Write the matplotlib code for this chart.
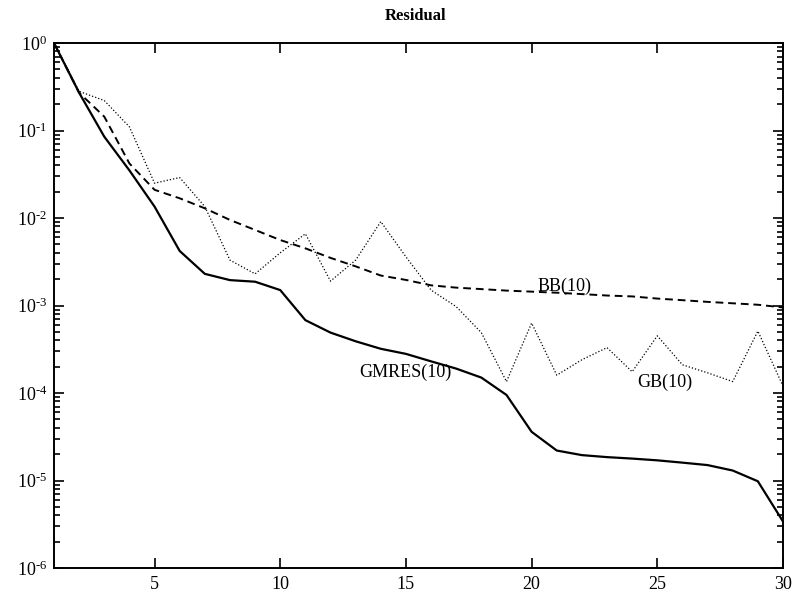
import numpy as np
import matplotlib
matplotlib.use("Agg")
import matplotlib.pyplot as plt
from matplotlib.ticker import FixedLocator, FuncFormatter, NullFormatter

plt.rcParams["font.family"] = ["Liberation Serif", "DejaVu Serif"]
plt.rcParams["mathtext.fontset"] = "custom"
plt.rcParams["mathtext.rm"] = "Liberation Serif"
plt.rcParams["mathtext.it"] = "Liberation Serif:italic"

iterations = np.arange(1, 31)

gmres = [1.0, 0.27, 0.085, 0.035, 0.0135, 0.0042, 0.0023, 0.00195, 0.00187, 0.0015,
         6.8e-4, 4.9e-4, 3.9e-4, 3.2e-4, 2.8e-4, 2.3e-4, 1.9e-4, 1.5e-4, 9.5e-5, 3.6e-5,
         2.2e-5, 1.95e-5, 1.85e-5, 1.78e-5, 1.7e-5, 1.6e-5, 1.5e-5, 1.3e-5, 9.8e-6, 3.4e-6]

bb = [1.0, 0.27, 0.144, 0.042, 0.021, 0.0168, 0.0129, 0.0095, 0.0073, 0.0056,
      0.0045, 0.0035, 0.0028, 0.0022, 0.00196, 0.0017, 0.0016, 0.00154, 0.00148, 0.00144,
      0.0014, 0.00135, 0.0013, 0.00127, 0.0012, 0.00115, 0.0011, 0.00106, 0.00102, 0.00095]

gb = [1.0, 0.28, 0.22, 0.11, 0.025, 0.029, 0.0135, 0.0033, 0.0023, 0.004,
      0.0066, 0.0019, 0.0033, 0.0091, 0.0036, 0.0015, 0.00097, 4.9e-4, 1.35e-4, 6.3e-4,
      1.6e-4, 2.4e-4, 3.3e-4, 1.75e-4, 4.5e-4, 2.1e-4, 1.7e-4, 1.35e-4, 5.1e-4, 1.2e-4]

x_ticks = [5, 10, 15, 20, 25, 30]
y_decades = [-6, -5, -4, -3, -2, -1, 0]

W, H = 797, 601
fig = plt.figure(figsize=(W / 100, H / 100), dpi=100)
ax = fig.add_axes([54 / W, 1 - 568 / H, 729 / W, 525 / H])

ax.semilogy(iterations, gmres, color="black", lw=1.6, ls="-")
ax.semilogy(iterations, bb, color="black", lw=1.4, ls=(0, (4, 2.5)))
ax.semilogy(iterations, gb, color="black", lw=0.9, ls=(0, (1, 1.6)))

ax.set_xlim(1, 30)
ax.set_ylim(1e-6, 1)


def decade_label(v, pos):
    e = int(round(np.log10(v)))
    if e < 0:
        return r"$10^{\text{-}%d}$" % (-e)
    return r"$10^{%d}$" % e


major_y = [10.0 ** e for e in y_decades]
minor_y = [m * 10.0 ** e for e in y_decades[:-1] for m in range(2, 10)]

ax.xaxis.set_major_locator(FixedLocator(x_ticks))
ax.yaxis.set_major_locator(FixedLocator(major_y))
ax.yaxis.set_minor_locator(FixedLocator(minor_y))
ax.yaxis.set_minor_formatter(NullFormatter())
ax.yaxis.set_major_formatter(FuncFormatter(decade_label))

ax.tick_params(which="both", direction="in", top=True, right=True, labelsize=13, width=1.2)
ax.tick_params(which="major", length=7)
ax.tick_params(which="minor", length=4)
ax.tick_params(axis="y", pad=5)
ax.tick_params(axis="x", pad=6)
for s in ax.spines.values():
    s.set_linewidth(1.4)

fig.text(416 / W, 1 - 16 / H, "Residual", fontsize=12, fontweight="bold", ha="center", va="center")


def place(x, y, s):
    fig.text(x / W, 1 - y / H, s, fontsize=13, ha="center", va="center")


place(565, 286, "BB(10)")
place(405, 372, "GMRES(10)")
place(665, 382, "GB(10)")

fig.savefig("out.png", dpi=100)
